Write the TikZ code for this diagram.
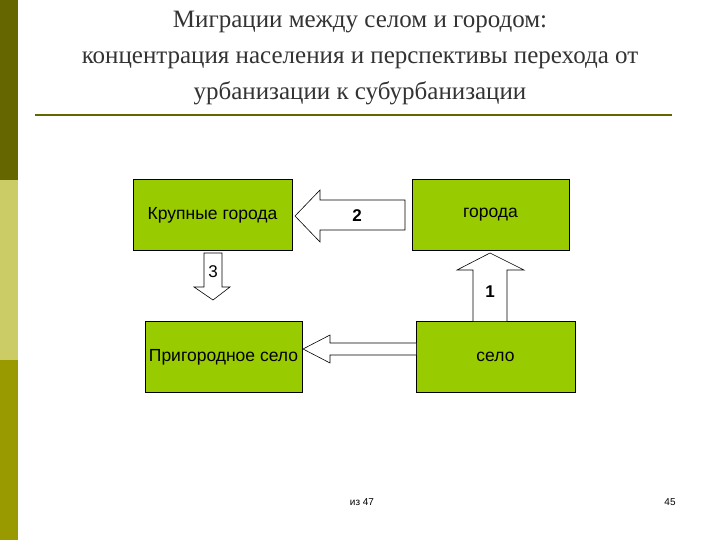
\documentclass[tikz,border=0pt]{standalone}
\usepackage{fontspec}
\setmainfont{Liberation Serif}
\newfontfamily\arialf{Liberation Sans}
\definecolor{boxg}{HTML}{99CC00}
\definecolor{darkol}{HTML}{666600}
\definecolor{lightol}{HTML}{CCCC66}
\definecolor{midol}{HTML}{999900}
\definecolor{titlec}{HTML}{333333}
\begin{document}
\begin{tikzpicture}[x=1pt,y=-1pt,
 gbox/.style={draw=black,fill=boxg,minimum width=#1,minimum height=71,font=\arialf\fontsize{17.5}{20}\selectfont,inner sep=0},
 arr/.style={draw=black,fill=white,line width=0.6pt},
 lbl/.style={font=\arialf\bfseries\fontsize{17}{20}\selectfont}]
\useasboundingbox (0,0) rectangle (720,540);
\fill[darkol] (0,0) rectangle (18,180);
\fill[lightol] (0,180) rectangle (18,360);
\fill[midol] (0,360) rectangle (18,540);
\node[align=center,text=titlec,font=\fontsize{25}{36}\selectfont] (title) at (360,58) {Миграции между селом и городом:\\концентрация населения и перспективы перехода от\\урбанизации к субурбанизации};
\draw[darkol,line width=1.2pt] (35,115) -- (672,115);
\node[gbox=159] (k) at (212.5,215) {Крупные города};
\node[gbox=157] (g) at (490.5,215) {города};
\node[gbox=157] (p) at (223.5,357) {Пригородное село};
\node[gbox=159] (s) at (495.5,357) {село};
% arrow 2
\draw[arr] (405,200) -- (320,200) -- (320,190) -- (295,216) -- (320,242) -- (320,230) -- (405,230) -- cycle;
\node[lbl] (n2) at (357,216) {2};
% arrow 3
\draw[arr] (204,253) -- (222,253) -- (222,287) -- (230,287) -- (213,300) -- (194,287) -- (204,287) -- cycle;
\node[lbl,font=\arialf\fontsize{17}{20}\selectfont] (n3) at (213,272) {3};
% arrow 1
\draw[arr] (473,321) -- (473,270) -- (457,270) -- (490,253) -- (524,270) -- (507,270) -- (507,321);
\node[lbl] (n1) at (490,292) {1};
% bottom arrow
\draw[arr] (416,343) -- (330,343) -- (330,335) -- (303,349) -- (330,363) -- (330,355) -- (416,355);
\node[font=\arialf\fontsize{10}{12}\selectfont] (f1) at (362,502) {из 47};
\node[font=\arialf\fontsize{10}{12}\selectfont] (f2) at (670,502) {45};
\end{tikzpicture}
\end{document}
